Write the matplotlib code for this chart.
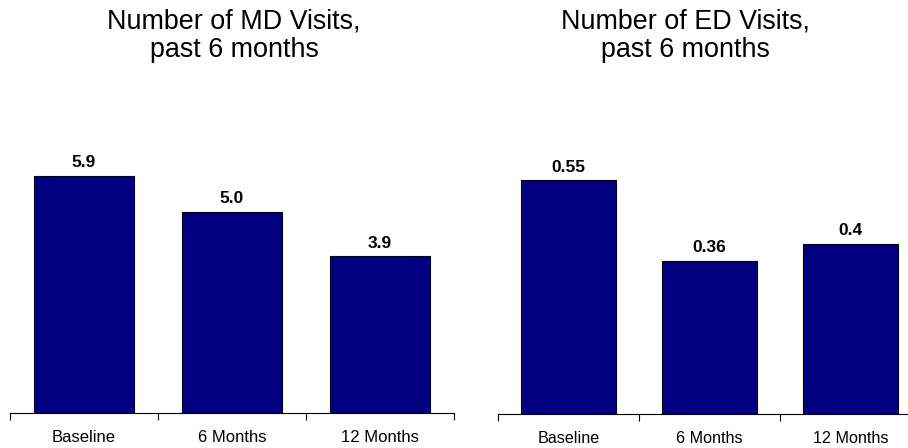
import matplotlib.pyplot as plt
import numpy as np

plt.rcParams['font.family'] = ['Liberation Sans', 'DejaVu Sans']

categories = ['Baseline', '6 Months', '12 Months']
md_visits = [5.9, 5.0, 3.9]
ed_visits = [0.55, 0.36, 0.4]
md_labels = ['5.9', '5.0', '3.9']
ed_labels = ['0.55', '0.36', '0.4']

bar_color = '#000080'

fig = plt.figure(figsize=(9.08, 4.48), dpi=100)

# left panel: axis line from x=10 to 454 px, baseline at y=413 px
ax1 = fig.add_axes([10/908, 35/448, 444/908, 7*40.2/448])
# right panel runs past the right edge of the figure
ax2 = fig.add_axes([498/908, 34/448, 423/908, 0.7*425/448])

def draw(ax, values, labels, ymax, fs_tick, fs_val):
    x = np.arange(len(categories))
    ax.bar(x, values, width=0.675, color=bar_color, edgecolor='black', linewidth=0.8)
    for xi, v, lab in zip(x, values, labels):
        ax.annotate(lab, (xi, v), xytext=(0, 4), textcoords='offset points',
                    ha='center', va='bottom', fontsize=fs_val, fontweight='bold')
    ax.set_xlim(-0.5, len(categories) - 0.5)
    ax.set_ylim(0, ymax)
    for s in ['left', 'right', 'top']:
        ax.spines[s].set_visible(False)
    ax.spines['bottom'].set_linewidth(0.8)
    ax.set_yticks([])
    ax.set_xticks(x)
    ax.set_xticklabels(categories, fontsize=fs_tick)
    ax.tick_params(axis='x', which='major', length=0, pad=12)
    ax.set_xticks(np.arange(len(categories) + 1) - 0.5, minor=True)
    ax.tick_params(axis='x', which='minor', length=5, width=0.8)

draw(ax1, md_visits, md_labels, 7, 12, 12.5)
draw(ax2, ed_visits, ed_labels, 0.7, 11.6, 12.5)

fig.text(234/908, 1 - 36/448, 'Number of MD Visits,\npast 6 months', ha='center',
         va='center', fontsize=19.4, linespacing=1.1)
fig.text(685/908, 1 - 36/448, 'Number of ED Visits,\npast 6 months', ha='center',
         va='center', fontsize=19.4, linespacing=1.1)

fig.savefig('out.png', dpi=100)
